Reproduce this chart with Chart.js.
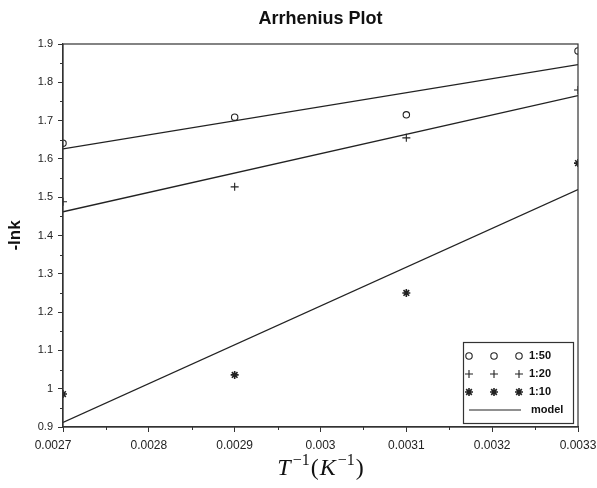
<!DOCTYPE html>
<html>
<head>
<meta charset="utf-8">
<script src="https://cdn.jsdelivr.net/npm/chart.js@4.4.0/dist/chart.umd.min.js"></script>
<style>
  html, body { margin: 0; padding: 0; background: #fff; }
  #wrap { width: 597px; height: 488px; }
</style>
</head>
<body>
<div id="wrap"><canvas id="arrhenius"></canvas></div>
<script>
// values
const invT = [0.0027, 0.0029, 0.0031, 0.0033];
const ratio150 = [1.641, 1.709, 1.715, 1.882];
const ratio120 = [1.488, 1.527, 1.655, 1.780];
const ratio110 = [0.986, 1.036, 1.250, 1.589];

// fitted model lines, end points at x = 0.0027 and 0.0033
const modelX = [0.0027, 0.0033];
const model150 = [1.626, 1.846];
const model120 = [1.462, 1.765];
const model110 = [0.912, 1.520];

const xTicks = [0.0027, 0.0028, 0.0029, 0.003, 0.0031, 0.0032, 0.0033];
const yTicks = [0.9, 1, 1.1, 1.2, 1.3, 1.4, 1.5, 1.6, 1.7, 1.8, 1.9];

const legendLabels = ['1:50', '1:20', '1:10', 'model'];

const INK = '#222';

const pts = (xs, ys) => xs.map((x, i) => ({ x: x, y: ys[i] }));

const markerSet = (data, style) => ({
  type: 'line',
  data: data,
  showLine: false,
  pointStyle: style,
  pointRadius: style === 'circle' ? 3.2 : 4,
  pointBorderWidth: style === 'star' ? 1.6 : 1.1,
  pointBorderColor: INK,
  pointBackgroundColor: 'rgba(0,0,0,0)',
  borderColor: INK,
});

const modelSet = (ys) => ({
  type: 'line',
  data: pts(modelX, ys),
  borderColor: INK,
  borderWidth: 1.3,
  pointRadius: 0,
  fill: false,
});

// titles, frame, minor ticks and the little legend box
const decorations = {
  id: 'decorations',
  afterDraw(chart) {
    const ctx = chart.ctx;
    const a = chart.chartArea;
    const xs = chart.scales.x;
    const ys = chart.scales.y;
    ctx.save();

    // frame
    ctx.strokeStyle = '#333';
    ctx.lineWidth = 1.2;
    ctx.strokeRect(a.left, a.top, a.right - a.left, a.bottom - a.top);

    // minor ticks
    ctx.lineWidth = 1;
    ctx.beginPath();
    for (let i = 0; i < xTicks.length - 1; i++) {
      const px = Math.round(xs.getPixelForValue((xTicks[i] + xTicks[i + 1]) / 2)) + 0.5;
      ctx.moveTo(px, a.bottom);
      ctx.lineTo(px, a.bottom + 3);
    }
    for (let i = 0; i < yTicks.length - 1; i++) {
      const py = Math.round(ys.getPixelForValue((yTicks[i] + yTicks[i + 1]) / 2)) + 0.5;
      ctx.moveTo(a.left - 3, py);
      ctx.lineTo(a.left, py);
    }
    ctx.stroke();

    // main title
    ctx.fillStyle = '#111';
    ctx.font = 'bold 18px "Liberation Sans", Arial, sans-serif';
    ctx.textAlign = 'center';
    ctx.textBaseline = 'middle';
    ctx.fillText('Arrhenius Plot', (a.left + a.right) / 2, 19);

    // y title
    ctx.save();
    ctx.translate(15, (a.top + a.bottom) / 2);
    ctx.rotate(-Math.PI / 2);
    ctx.font = 'bold 17px "Liberation Sans", Arial, sans-serif';
    ctx.fillText('-lnk', 0, 0);
    ctx.restore();

    // x title: T^-1 (K^-1)
    const big = '24px "Liberation Serif", "DejaVu Serif", serif';
    const bigIt = 'italic 24px "Liberation Serif", "DejaVu Serif", serif';
    const sup = '16px "Liberation Serif", "DejaVu Serif", serif';
    const parts = [
      { t: 'T', f: bigIt, dy: 0, pad: 2 },
      { t: '\u22121', f: sup, dy: -10, pad: 1 },
      { t: '(', f: big, dy: 0, pad: 1 },
      { t: 'K', f: bigIt, dy: 0, pad: 2 },
      { t: '\u22121', f: sup, dy: -10, pad: 1 },
      { t: ')', f: big, dy: 0, pad: 0 },
    ];
    let total = 0;
    parts.forEach(p => { ctx.font = p.f; p.w = ctx.measureText(p.t).width + p.pad; total += p.w; });
    let cx = (a.left + a.right) / 2 - total / 2;
    ctx.textAlign = 'left';
    ctx.textBaseline = 'alphabetic';
    parts.forEach(p => {
      ctx.font = p.f;
      ctx.fillText(p.t, cx, 475 + p.dy);
      cx += p.w;
    });

    // legend box
    const bx = a.right - 115, by = a.bottom - 85, bw = 110, bh = 81;
    ctx.fillStyle = '#fff';
    ctx.fillRect(bx, by, bw, bh);
    ctx.strokeStyle = '#333';
    ctx.lineWidth = 1.2;
    ctx.strokeRect(bx + 0.5, by + 0.5, bw, bh);

    const styles = ['circle', 'cross', 'star'];
    const mx = [bx + 6, bx + 31, bx + 56];
    ctx.font = 'bold 11px "Liberation Sans", Arial, sans-serif';
    ctx.textBaseline = 'middle';
    for (let r = 0; r < 3; r++) {
      const ry = by + 14 + r * 18;
      mx.forEach(x => {
        ctx.strokeStyle = INK;
        ctx.lineWidth = styles[r] === 'star' ? 1.6 : 1.1;
        Chart.helpers.drawPoint(ctx, { pointStyle: styles[r], radius: styles[r] === 'circle' ? 3.2 : 4, borderWidth: ctx.lineWidth }, x, ry);
      });
      ctx.fillStyle = '#111';
      ctx.fillText(legendLabels[r], bx + 66, ry);
    }
    const my = by + 68;
    ctx.strokeStyle = INK;
    ctx.lineWidth = 1.2;
    ctx.beginPath();
    ctx.moveTo(bx + 6, my);
    ctx.lineTo(bx + 58, my);
    ctx.stroke();
    ctx.fillStyle = '#111';
    ctx.fillText(legendLabels[3], bx + 68, my);

    ctx.restore();
  }
};

new Chart(document.getElementById('arrhenius'), {
  type: 'line',
  data: {
    datasets: [
      markerSet(pts(invT, ratio150), 'circle'),
      markerSet(pts(invT, ratio120), 'cross'),
      markerSet(pts(invT, ratio110), 'star'),
      modelSet(model150),
      modelSet(model120),
      modelSet(model110),
    ]
  },
  options: {
    responsive: true,
    maintainAspectRatio: false,
    animation: false,
    layout: { padding: { top: 44, right: 19, left: 0, bottom: 0 } },
    plugins: {
      legend: { display: false },
      title: { display: false },
      tooltip: { enabled: false },
    },
    scales: {
      x: {
        type: 'linear',
        min: xTicks[0],
        max: xTicks[xTicks.length - 1],
        afterBuildTicks: s => { s.ticks = xTicks.map(v => ({ value: v })); },
        afterFit: s => { s.height = 61; s.paddingLeft = 0; s.paddingRight = 0; },
        ticks: {
          // first label sits a bit left of its tick, as in the original
          callback: (v, i) => xTicks[i].toString() + (i === 0 ? '      ' : ''),
          color: INK,
          font: { family: '"Liberation Sans", Arial, sans-serif', size: 12 },
          padding: 6,
          maxRotation: 0,
          autoSkip: false,
        },
        grid: { drawOnChartArea: false, drawTicks: true, tickLength: 5, color: '#333' },
        border: { display: true, color: '#333', width: 1.2 },
      },
      y: {
        type: 'linear',
        min: yTicks[0],
        max: yTicks[yTicks.length - 1],
        afterBuildTicks: s => { s.ticks = yTicks.map(v => ({ value: v })); },
        afterFit: s => { s.width = 63; s.paddingTop = 0; s.paddingBottom = 0; },
        ticks: {
          callback: (v, i) => yTicks[i].toString(),
          color: INK,
          font: { family: '"Liberation Sans", Arial, sans-serif', size: 11 },
          padding: 5,
        },
        grid: { drawOnChartArea: false, drawTicks: true, tickLength: 5, color: '#333' },
        border: { display: true, color: '#333', width: 1.2 },
      }
    }
  },
  plugins: [decorations]
});
</script>
</body>
</html>
